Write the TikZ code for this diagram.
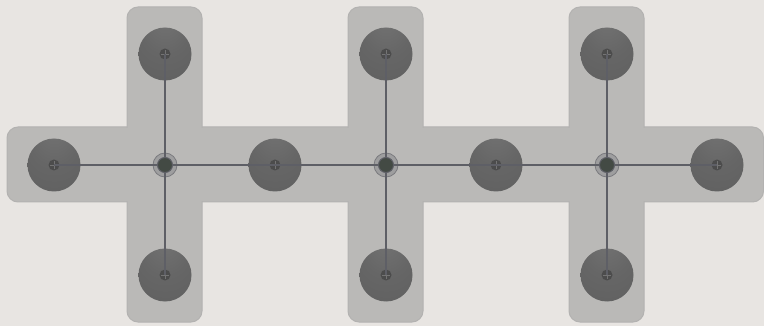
\documentclass[tikz,border=0pt]{standalone}
\usetikzlibrary{shadings}
\definecolor{bgc}{HTML}{E8E5E2}
\definecolor{bandc}{HTML}{BAB9B7}
\definecolor{bandedge}{HTML}{B3B2B1}
\definecolor{linec}{HTML}{5E5F66}
\definecolor{ballmid}{HTML}{666666}
\definecolor{ballout}{HTML}{5F5F5F}
\definecolor{balltop}{HTML}{747474}
\definecolor{hubc}{HTML}{434A44}
\pgfdeclareradialshading{ballshade}{\pgfpoint{0bp}{38bp}}{
  color(0bp)=(balltop); color(22bp)=(ballmid); color(45bp)=(ballout); color(50bp)=(ballout)}
\tikzset{
  x=1pt,y=-1pt,
  band/.style={fill=bandc,draw=bandedge,line width=1pt,rounded corners=11pt},
  bandfill/.style={fill=bandc,rounded corners=10pt},
  ball/.style={circle,minimum size=53pt,inner sep=0pt,shading=ballshade,draw=none},
  socket/.style={circle,minimum size=11pt,inner sep=0pt,fill=ballout!80!black,draw=none},
  hub/.style={circle,minimum size=15pt,inner sep=0pt,fill=hubc,draw=linec,line width=1pt},
  hubring/.style={circle,minimum size=24pt,inner sep=0pt,fill=bandc!70!linec,draw=linec!70!bandc,line width=0.8pt},
  wire/.style={draw=linec,line width=1.5pt},
  crossbar/.style={draw=balltop,line width=0.9pt}
}
\newcommand{\ballat}[3]{%
  \node[ball] (#1) at (#2,#3) {};
  \node[socket] (#1s) at (#2,#3) {};
  \draw[crossbar] (#2-4,#3) -- (#2+4,#3);
  \draw[crossbar] (#2,#3-4) -- (#2,#3+4);
}
\newcommand{\hubat}[3]{%
  \node[hubring] (#1r) at (#2,#3) {};
  \node[hub] (#1) at (#2,#3) {};
}
\begin{document}
\begin{tikzpicture}
\useasboundingbox (0,0) rectangle (764,326);
\fill[bgc] (0,0) rectangle (764,326);
\draw[band] (7,127) rectangle (763.5,202);
\foreach \x in {127,348,569}{
  \draw[band] (\x,7) rectangle (\x+75,322);
}
\fill[bandfill] (8,128) rectangle (762.5,201);
\foreach \x in {127,348,569}{
  \fill[bandfill] (\x+1,8) rectangle (\x+74,321);
}
\ballat{a}{54}{165}
\ballat{b}{275}{165}
\ballat{c}{496}{165}
\ballat{d}{717}{165}
\ballat{t1}{165}{54}
\ballat{t2}{386}{54}
\ballat{t3}{607}{54}
\ballat{u1}{165}{275}
\ballat{u2}{386}{275}
\ballat{u3}{607}{275}
\hubat{h1}{165}{165}
\hubat{h2}{386}{165}
\hubat{h3}{607}{165}
\draw[wire] (as.center) -- (h1);
\draw[wire] (h1) -- (bs.center);
\draw[wire] (bs.center) -- (h2);
\draw[wire] (h2) -- (cs.center);
\draw[wire] (cs.center) -- (h3);
\draw[wire] (h3) -- (ds.center);
\draw[wire] (t1s.center) -- (h1);
\draw[wire] (h1) -- (u1s.center);
\draw[wire] (t2s.center) -- (h2);
\draw[wire] (h2) -- (u2s.center);
\draw[wire] (t3s.center) -- (h3);
\draw[wire] (h3) -- (u3s.center);
\end{tikzpicture}
\end{document}
